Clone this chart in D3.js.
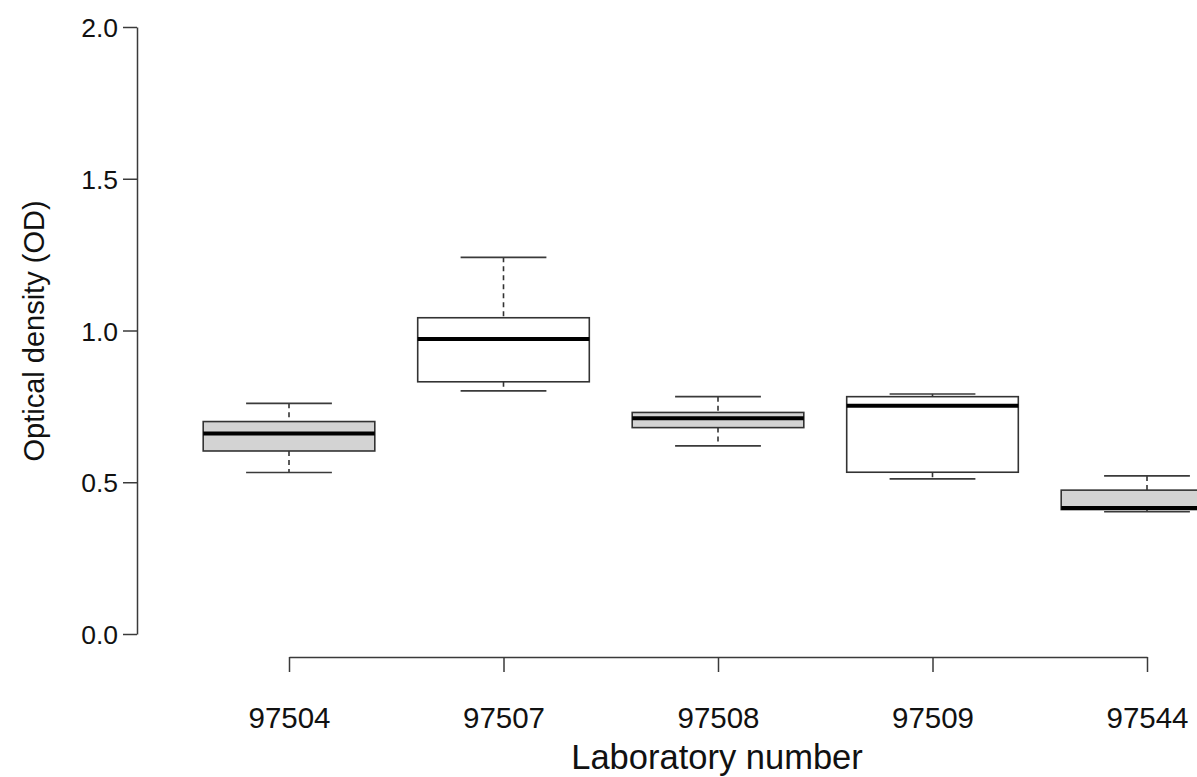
<!DOCTYPE html>
<html>
<head>
<meta charset="utf-8">
<script src="https://cdn.jsdelivr.net/npm/d3@7"></script>
<style>
  html, body { margin: 0; padding: 0; background: #fff; }
  svg { display: block; font-family: "Liberation Sans", Arial, Helvetica, sans-serif; }
</style>
</head>
<body>
<svg id="chart" width="1197" height="777"></svg>
<script>
// Laboratory identifiers along the x axis
const labs = ["97504", "97507", "97508", "97509", "97544"];
// Five-number summaries of optical density per laboratory
const whiskerLow  = [0.532, 0.801, 0.620, 0.511, 0.403];
const quartile1   = [0.603, 0.831, 0.680, 0.533, 0.410];
const medians     = [0.661, 0.972, 0.711, 0.752, 0.415];
const quartile3   = [0.700, 1.042, 0.730, 0.782, 0.474];
const whiskerHigh = [0.760, 1.241, 0.782, 0.791, 0.521];
// Alternating box fills
const fills = ["#d3d3d3", "#ffffff", "#d3d3d3", "#ffffff", "#d3d3d3"];
// Y axis tick values
const yTicks = [0, 0.5, 1.0, 1.5, 2.0];

const svg = d3.select("#chart");
const font = "Liberation Sans, Arial, sans-serif";

const y = d3.scaleLinear().domain([0, 2]).range([634, 27]);
const x = d3.scalePoint().domain(labs).range([289, 1147]);
const step = x.step();
const boxW = step * 0.8;
const capW = boxW / 2;

// Y axis (detached, R style)
const yAxis = d3.axisLeft(y).tickValues(yTicks).tickFormat(d3.format(".1f"))
  .tickSize(14).tickPadding(5).tickSizeOuter(0);
const gy = svg.append("g").attr("transform", "translate(137,0)").call(yAxis);
gy.select(".domain").attr("stroke", "#3a3a3a").attr("stroke-width", 1.5);
gy.selectAll(".tick line").attr("stroke", "#3a3a3a").attr("stroke-width", 1.5);
gy.selectAll(".tick text").attr("font-size", 26.5).attr("fill", "#111")
  .attr("font-family", font).attr("dy", "0.36em");

// X axis
const xAxis = d3.axisBottom(x).tickSize(15).tickPadding(0).tickSizeOuter(0);
const gx = svg.append("g").attr("transform", "translate(0,657)").call(xAxis);
gx.select(".domain").attr("stroke", "#3a3a3a").attr("stroke-width", 1.5);
gx.selectAll(".tick line").attr("stroke", "#3a3a3a").attr("stroke-width", 1.5);
gx.selectAll(".tick text").attr("font-size", 29.5).attr("fill", "#111")
  .attr("font-family", font).attr("y", 71).attr("dy", 0);

// Boxplots
const data = labs.map((lab, i) => ({
  lab, lo: whiskerLow[i], q1: quartile1[i], med: medians[i],
  q3: quartile3[i], hi: whiskerHigh[i], fill: fills[i]
}));

const g = svg.append("g");
const box = g.selectAll("g.box").data(data).join("g").attr("class", "box");

// dashed whiskers
box.append("line")
  .attr("x1", d => x(d.lab)).attr("x2", d => x(d.lab))
  .attr("y1", d => y(d.hi)).attr("y2", d => y(d.q3))
  .attr("stroke", "#333").attr("stroke-width", 1.6).attr("stroke-dasharray", "5,4");
box.append("line")
  .attr("x1", d => x(d.lab)).attr("x2", d => x(d.lab))
  .attr("y1", d => y(d.q1)).attr("y2", d => y(d.lo))
  .attr("stroke", "#333").attr("stroke-width", 1.6).attr("stroke-dasharray", "5,4");
// whisker caps
box.append("line")
  .attr("x1", d => x(d.lab) - capW / 2).attr("x2", d => x(d.lab) + capW / 2)
  .attr("y1", d => y(d.hi)).attr("y2", d => y(d.hi))
  .attr("stroke", "#3a3a3a").attr("stroke-width", 1.6);
box.append("line")
  .attr("x1", d => x(d.lab) - capW / 2).attr("x2", d => x(d.lab) + capW / 2)
  .attr("y1", d => y(d.lo)).attr("y2", d => y(d.lo))
  .attr("stroke", "#3a3a3a").attr("stroke-width", 1.6);
// box
box.append("rect")
  .attr("x", d => x(d.lab) - boxW / 2).attr("width", boxW)
  .attr("y", d => y(d.q3)).attr("height", d => y(d.q1) - y(d.q3))
  .attr("fill", d => d.fill).attr("stroke", "#333").attr("stroke-width", 1.6);
// median
box.append("line")
  .attr("x1", d => x(d.lab) - boxW / 2).attr("x2", d => x(d.lab) + boxW / 2)
  .attr("y1", d => y(d.med)).attr("y2", d => y(d.med))
  .attr("stroke", "#000").attr("stroke-width", 4);

// Axis titles
svg.append("text")
  .attr("x", 717).attr("y", 769)
  .attr("text-anchor", "middle").attr("font-size", 34.5).attr("fill", "#111")
  .attr("font-family", font)
  .text("Laboratory number");
svg.append("text")
  .attr("transform", "translate(44,331) rotate(-90)")
  .attr("text-anchor", "middle").attr("font-size", 29).attr("fill", "#111")
  .attr("font-family", font)
  .text("Optical density (OD)");
</script>
</body>
</html>
